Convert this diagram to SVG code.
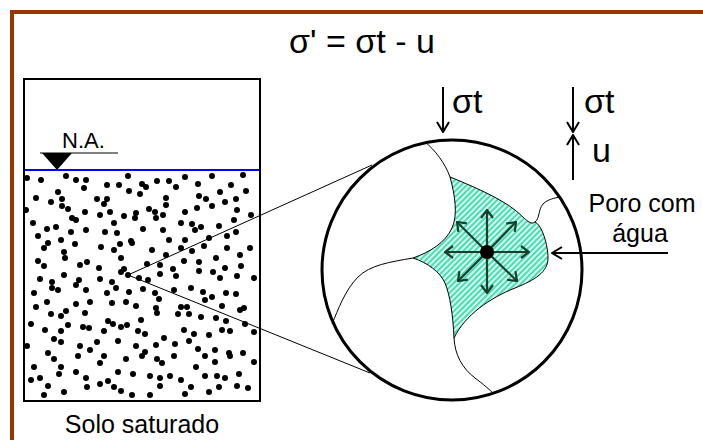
<svg xmlns="http://www.w3.org/2000/svg" width="703" height="440" viewBox="0 0 703 440">
  <style>
    text { font-family: "Liberation Sans", Arial, sans-serif; fill: #000; }
    .big { font-size: 34px; }
    .mid { font-size: 25px; }
    .small { font-size: 22px; }
    .thin { fill: none; stroke: #000; stroke-width: 1; }
    .arrow { fill: none; stroke: #000; stroke-width: 2; marker-end: url(#vee); }
    .flow { fill: none; stroke: #17402f; stroke-width: 2.2; marker-end: url(#vee-green); }
  </style>
  <defs>
    <marker id="vee" viewBox="0 0 12 14" refX="11" refY="7" markerWidth="12" markerHeight="14" markerUnits="userSpaceOnUse" orient="auto">
      <path d="M1,1 L11,7 L1,13" fill="none" stroke="#000" stroke-width="2"/>
    </marker>
    <marker id="vee-green" viewBox="0 0 10 14" refX="9" refY="7" markerWidth="10" markerHeight="14" markerUnits="userSpaceOnUse" orient="auto">
      <path d="M1,1 L9,7 L1,13" fill="none" stroke="#17402f" stroke-width="2.2"/>
    </marker>
    <pattern id="water" width="4" height="4" patternUnits="userSpaceOnUse" patternTransform="rotate(45)">
      <rect width="4" height="4" fill="#d4fbef"/>
      <rect width="2" height="4" fill="#4cdcb2"/>
    </pattern>
  </defs>

  <!-- outer frame -->
  <path d="M12,440 V12 H703" fill="none" stroke="#993300" stroke-width="4"/>

  <!-- effective stress equation -->
  <text id="equation" x="362" y="53" class="big" text-anchor="middle">σ' = σt - u</text>

  <!-- saturated soil column -->
  <g id="soil-column">
    <rect x="24" y="79" width="236" height="322" fill="#fff" stroke="#000" stroke-width="2"/>
    <path fill="none" stroke="#000" stroke-width="6" stroke-linecap="round" d="
      M27 178h0M41 180h0M66 176h0M76 180h0M86 180h0M107 185h0M119 185h0M128 176h0M142 184h0M157 181h0M169 181h0M185 177h0M198 184h0M212 176h0M231 185h0M243 175h0
      M36 198h0M58 192h0M62 199h0M84 188h0M97 199h0M107 199h0M129 191h0M140 194h0M146 187h0M166 198h0M176 187h0M199 196h0M206 199h0M220 192h0M236 199h0M246 191h0
      M26 210h0M51 202h0M62 206h0M68 209h0M85 212h0M104 204h0M110 212h0M136 213h0M149 209h0M155 212h0M166 205h0M185 212h0M197 208h0M212 206h0M225 202h0M237 210h0
      M33 223h0M56 227h0M72 218h0M76 220h0M100 215h0M114 223h0M124 216h0M135 218h0M156 218h0M163 215h0M181 223h0M192 224h0M201 227h0M219 226h0M234 220h0M251 215h0
      M38 236h0M47 229h0M61 240h0M71 232h0M86 230h0M105 232h0M117 233h0M131 241h0M143 229h0M163 230h0M169 240h0M185 240h0M195 230h0M209 238h0M227 236h0M236 232h0
      M44 248h0M48 243h0M64 252h0M75 244h0M101 247h0M114 250h0M120 244h0M132 243h0M152 250h0M166 255h0M181 248h0M192 251h0M204 246h0M227 248h0M240 255h0M250 248h0
      M38 261h0M44 266h0M65 258h0M80 265h0M87 262h0M99 268h0M121 258h0M124 269h0M147 264h0M160 265h0M173 269h0M184 261h0M199 262h0M216 258h0M225 268h0M241 266h0
      M40 279h0M52 282h0M64 275h0M79 280h0M100 279h0M112 282h0M121 272h0M139 278h0M148 280h0M160 274h0M176 276h0M199 271h0M213 272h0M220 278h0M237 276h0M254 278h0
      M34 293h0M52 288h0M58 290h0M76 285h0M86 290h0M107 293h0M116 288h0M129 292h0M143 289h0M155 293h0M174 290h0M191 288h0M203 292h0M212 297h0M226 293h0M236 294h0
      M36 307h0M47 302h0M66 311h0M76 304h0M90 302h0M112 303h0M126 302h0M136 306h0M156 308h0M159 299h0M181 307h0M187 307h0M205 300h0M222 306h0M240 310h0M244 308h0
      M31 324h0M51 314h0M61 316h0M68 325h0M85 313h0M108 321h0M113 324h0M127 325h0M141 320h0M157 313h0M178 314h0M189 314h0M201 317h0M216 318h0M226 321h0M245 324h0
      M45 330h0M54 339h0M61 331h0M83 327h0M89 328h0M104 331h0M121 327h0M138 331h0M145 334h0M164 338h0M184 330h0M194 334h0M209 335h0M222 330h0M230 331h0M254 332h0
      M27 346h0M48 353h0M61 342h0M80 346h0M90 350h0M97 342h0M118 341h0M136 346h0M145 352h0M156 345h0M175 344h0M189 341h0M198 349h0M215 350h0M229 353h0M243 353h0
      M34 367h0M54 359h0M61 367h0M78 356h0M100 363h0M104 356h0M126 359h0M142 356h0M157 359h0M162 363h0M174 356h0M196 367h0M205 356h0M215 362h0M230 356h0M254 362h0
      M31 380h0M40 378h0M59 374h0M76 372h0M86 378h0M108 381h0M118 372h0M133 374h0M150 376h0M160 378h0M170 376h0M181 380h0M205 376h0M217 376h0M225 378h0M239 374h0
      M44 395h0M48 386h0M64 392h0M87 387h0M100 384h0M114 387h0M121 391h0M132 395h0M150 395h0M160 386h0M185 394h0M191 387h0M209 392h0M219 387h0M237 386h0M248 388h0
      M128 275h0"/>
    <line x1="25" y1="170" x2="259" y2="170" stroke="#0000ff" stroke-width="2"/>
    <text x="142" y="433" class="mid" text-anchor="middle">Solo saturado</text>
  </g>

  <!-- water table marker -->
  <g id="water-table">
    <line x1="40" y1="153" x2="118" y2="153" class="thin"/>
    <polygon points="42,153 72,153 57,170" fill="#000"/>
    <text x="62" y="148" class="small">N.A.</text>
  </g>

  <!-- magnified detail -->
  <g id="connectors">
    <line x1="128" y1="275" x2="372" y2="165" class="thin"/>
    <line x1="128" y1="275" x2="370" y2="373" class="thin"/>
  </g>

  <g id="pore-detail">
    <circle cx="452" cy="270" r="130" fill="#fff" stroke="#000" stroke-width="3"/>
    <!-- water-filled pore between grains -->
    <path d="M450,177 C470,185 500,198 515,210 C525,218 530,226 535,222 C542,225 548,245 548,258 C548,272 535,280 515,288 C490,298 465,315 454,338 C453,315 450,295 445,283 C440,272 428,263 413,258 C430,252 445,243 452,228 C458,215 455,195 450,177 Z" fill="url(#water)" stroke="#000" stroke-width="1"/>
    <!-- grain contacts -->
    <path d="M425,142 C435,150 445,163 450,177" class="thin"/>
    <path d="M413,258 C390,262 370,265 358,277 C345,290 338,310 332,324" class="thin"/>
    <path d="M454,338 C455,355 462,368 475,378 C483,384 490,390 493,393" class="thin"/>
    <path d="M535,222 C540,218 538,210 543,204 C548,199 555,198 560,197" class="thin"/>
    <!-- pore pressure acting in all directions -->
    <g id="pressure-arrows">
      <line x1="487" y1="252" x2="487" y2="210" class="flow"/>
      <line x1="487" y1="252" x2="487" y2="293" class="flow"/>
      <line x1="487" y1="252" x2="445" y2="252" class="flow"/>
      <line x1="487" y1="252" x2="529" y2="252" class="flow"/>
      <line x1="487" y1="252" x2="457" y2="222" class="flow"/>
      <line x1="487" y1="252" x2="516" y2="222" class="flow"/>
      <line x1="487" y1="252" x2="458" y2="281" class="flow"/>
      <line x1="487" y1="252" x2="517" y2="281" class="flow"/>
      <circle cx="487" cy="252" r="7" fill="#000"/>
    </g>
  </g>

  <!-- total stress and pore pressure -->
  <g id="stress-left">
    <line x1="443" y1="87" x2="443" y2="132" class="arrow"/>
    <text x="452" y="113" class="big">σt</text>
  </g>
  <g id="stress-right">
    <line x1="573" y1="87" x2="573" y2="132" class="arrow"/>
    <text x="584" y="113" class="big">σt</text>
    <line x1="573" y1="180" x2="573" y2="135" class="arrow"/>
    <text x="592" y="162" class="big">u</text>
  </g>

  <!-- pore label -->
  <g id="pore-label">
    <text x="642" y="212" class="mid" text-anchor="middle">Poro com</text>
    <text x="640" y="242" class="mid" text-anchor="middle">água</text>
    <line x1="668" y1="253" x2="552" y2="253" class="arrow"/>
  </g>
</svg>
